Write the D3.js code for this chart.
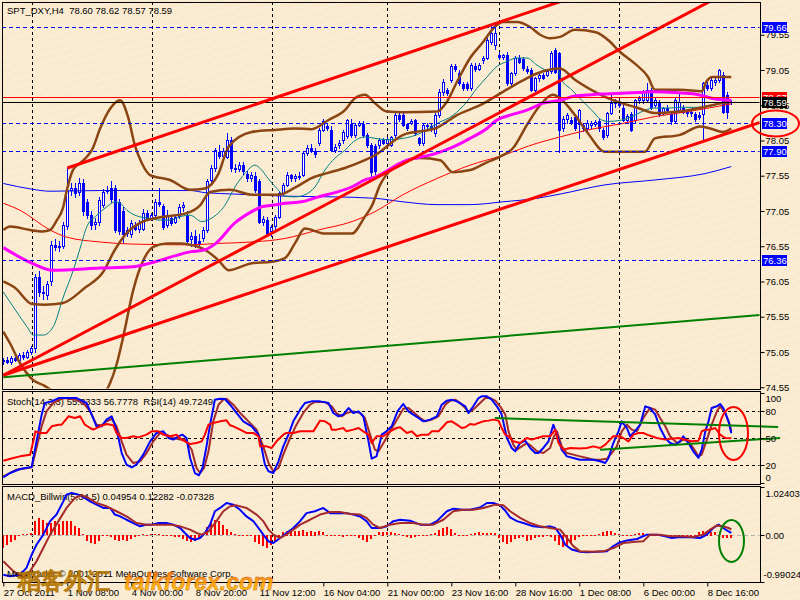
<!DOCTYPE html>
<html><head><meta charset="utf-8">
<script src="https://cdn.jsdelivr.net/npm/d3@7"></script>
<style>html,body{margin:0;padding:0;background:#FAEBD0;}svg{display:block;}text{font-family:"Liberation Sans",Arial,sans-serif;white-space:pre;}</style>
</head><body><svg id="c" width="800" height="600"></svg>
<script>
// ---------------- DATA ----------------
const symbolTitle = "SPT_DXY,H4  78.60 78.62 78.57 78.59";
const stochTitle = "Stoch(14,3,3) 55.3333 56.7778  RSI(14) 49.7249";
const macdTitle = "MACD_Billwin(5,34,5) 0.04954 0.12282 -0.07328";
const copyright = "MetaTrader © 2001-2011 MetaQuotes Software Corp.";
const xTickBars = [0,16,32,48,64,80,96,112,128,144,160,176];
const xTickLabels = ["27 Oct 2011","1 Nov 08:00","4 Nov 00:00","8 Nov 20:00","11 Nov 12:00","16 Nov 04:00","21 Nov 00:00","23 Nov 16:00","28 Nov 16:00","1 Dec 08:00","6 Dec 00:00","8 Dec 16:00"];
const gridBars = [7.1,37.1,67.1,96,124,154];
const priceTicks = [79.55,79.05,78.55,78.05,77.55,77.05,76.55,76.05,75.55,75.05,74.55];
const stochTicks = [100,80,50,20,0];
const stochLevels = [80,50,20];
const macdTicks = [1.02403,0,-0.99024];

const O = [74.92,74.94,74.91,74.96,74.94,75.00,74.98,75.05,75.10,76.12,75.90,75.86,76.05,76.57,76.54,76.56,76.83,77.35,77.38,77.32,77.45,77.18,77.00,76.86,76.90,77.13,77.33,77.37,77.37,77.18,77.05,76.78,76.72,76.85,76.80,76.80,77.02,76.95,77.00,77.18,77.12,76.85,76.95,76.90,76.98,77.10,77.00,76.65,76.70,76.62,76.66,76.78,77.49,77.66,77.88,77.83,77.82,78.06,77.66,77.64,77.70,77.58,77.52,77.54,77.47,76.90,76.92,76.76,76.83,76.97,77.30,77.42,77.56,77.52,77.55,77.56,77.87,77.94,77.90,78.01,78.20,78.25,78.20,77.92,77.99,78.06,78.11,78.29,78.13,78.27,78.29,78.13,77.99,77.97,77.98,78.05,78.02,77.99,78.13,78.41,78.41,78.28,78.30,78.34,78.08,78.01,78.27,78.25,78.15,78.41,78.74,78.76,78.91,79.10,79.00,78.85,78.85,78.79,79.10,79.07,79.19,79.22,79.45,79.40,79.26,79.24,79.26,78.86,79.00,79.22,79.20,79.07,79.05,78.77,78.93,78.98,78.98,79.03,79.33,79.29,78.22,78.36,78.34,78.39,78.29,78.27,78.22,78.27,78.28,78.32,78.20,78.13,78.44,78.58,78.60,78.51,78.34,78.43,78.34,78.62,78.62,78.62,78.77,78.55,78.60,78.46,78.51,78.43,78.32,78.48,78.51,78.46,78.46,78.43,78.41,78.43,78.84,78.79,78.88,78.91,78.98,78.70,78.60];
const Hh = [74.97,74.98,74.99,75.02,75.03,75.05,75.08,75.14,76.15,76.20,75.98,76.05,76.62,76.65,76.62,76.90,77.66,77.45,77.45,77.52,77.50,77.22,77.05,76.95,77.25,77.36,77.40,77.47,77.42,77.22,77.10,76.82,76.92,76.90,76.92,77.08,77.06,77.02,77.22,77.38,77.15,77.06,77.00,77.00,77.15,77.18,77.05,76.75,76.78,76.72,76.82,77.50,77.70,77.95,77.98,77.95,78.15,78.10,77.72,77.75,77.74,77.62,77.60,77.60,77.50,76.98,76.96,76.85,77.00,77.32,77.45,77.60,77.58,77.58,77.60,77.90,77.98,78.00,77.95,78.22,78.36,78.30,78.25,78.00,78.05,78.20,78.36,78.35,78.30,78.33,78.33,78.16,78.02,78.00,78.08,78.08,78.10,78.12,78.44,78.46,78.44,78.30,78.36,78.36,78.10,78.30,78.30,78.28,78.44,78.78,78.92,78.80,79.14,79.14,79.05,78.88,78.88,79.15,79.15,79.15,79.25,79.50,79.69,79.66,79.30,79.28,79.30,79.02,79.25,79.26,79.24,79.10,79.08,78.95,79.00,79.00,79.05,79.32,79.36,79.31,78.40,78.44,78.38,78.42,78.50,78.30,78.34,78.32,78.34,78.35,78.22,78.46,78.72,78.64,78.62,78.55,78.43,78.46,78.64,78.68,78.76,78.86,78.80,78.65,78.63,78.53,78.55,78.46,78.65,78.74,78.55,78.50,78.50,78.46,78.45,78.88,78.88,78.94,78.95,79.06,79.02,78.74,78.62];
const Ll = [74.88,74.89,74.88,74.92,74.92,74.95,74.96,75.02,75.05,75.85,75.80,75.80,76.00,76.50,76.48,76.52,76.80,77.28,77.25,77.28,77.00,76.95,76.80,76.80,76.85,77.10,77.30,77.18,76.75,76.72,76.60,76.70,76.68,76.78,76.75,76.78,76.92,76.92,76.98,77.12,76.80,76.82,76.85,76.88,76.95,77.05,76.58,76.55,76.54,76.56,76.62,76.75,77.45,77.62,77.80,77.78,77.80,77.62,77.60,77.62,77.58,77.48,77.48,77.32,76.88,76.85,76.69,76.70,76.80,76.95,77.28,77.40,77.48,77.48,77.50,77.54,77.85,77.88,77.82,77.98,78.18,78.20,77.90,77.88,77.95,78.02,78.08,78.10,78.10,78.25,78.10,77.96,77.55,77.58,77.95,78.00,77.98,77.97,78.10,78.32,78.25,78.20,78.28,78.13,77.98,77.98,78.22,78.18,78.12,78.38,78.70,78.70,78.88,79.03,78.84,78.76,78.77,78.76,79.03,79.05,79.15,79.20,79.42,79.35,79.20,79.20,78.84,78.82,78.98,79.15,79.05,79.00,78.75,78.74,78.90,78.92,78.96,79.00,79.00,77.89,78.18,78.30,78.28,78.20,78.08,78.18,78.20,78.22,78.25,78.18,78.07,78.10,78.42,78.53,78.52,78.32,78.30,78.18,78.30,78.58,78.58,78.60,78.50,78.52,78.40,78.42,78.46,78.28,78.30,78.46,78.44,78.40,78.40,78.33,78.36,78.06,78.77,78.76,78.84,78.88,78.44,78.37,78.57];
const Cc = [74.94,74.91,74.96,74.94,75.00,74.98,75.05,75.10,76.12,75.90,75.88,76.02,76.57,76.54,76.56,76.85,77.35,77.38,77.30,77.45,77.05,76.99,76.85,76.90,77.20,77.32,77.35,77.22,76.78,76.76,76.72,76.74,76.88,76.80,76.88,77.02,76.95,77.00,77.18,77.15,76.82,76.99,76.88,76.97,77.11,77.13,76.63,76.70,76.58,76.60,76.78,77.47,77.66,77.91,77.83,77.90,78.06,77.66,77.64,77.70,77.61,77.52,77.56,77.35,76.90,76.94,76.73,76.82,76.97,77.30,77.42,77.56,77.52,77.55,77.53,77.87,77.94,77.90,77.86,78.20,78.32,78.22,77.92,77.96,78.02,78.17,78.34,78.13,78.27,78.30,78.13,77.99,77.60,77.62,78.05,78.02,78.07,78.10,78.41,78.36,78.27,78.23,78.33,78.15,78.02,78.27,78.25,78.21,78.41,78.74,78.88,78.73,79.10,79.06,78.86,78.80,78.79,79.12,79.06,79.12,79.22,79.48,79.57,79.57,79.24,79.26,78.86,79.00,79.22,79.17,79.08,79.03,78.77,78.93,78.98,78.94,79.03,79.29,79.02,78.20,78.36,78.41,78.31,78.22,78.48,78.22,78.30,78.30,78.31,78.22,78.10,78.44,78.58,78.60,78.56,78.34,78.40,78.20,78.62,78.65,78.74,78.77,78.53,78.62,78.43,78.51,78.48,78.32,78.62,78.60,78.46,78.44,78.44,78.36,78.39,78.86,78.79,78.91,78.91,79.05,78.46,78.46,78.59];

const maTeal = [[0,75.90],[2.5,75.69],[5.9,75.41],[7.5,75.29],[10,75.29],[12.5,75.41],[15,75.83],[17.5,76.21],[19.2,76.52],[20.9,76.83],[23.4,76.99],[25.9,77.11],[27.9,77.18],[29.2,77.16],[30.9,77.06],[33.4,76.98],[35.9,76.95],[39.2,76.92],[41.7,76.92],[44.2,76.97],[46.7,76.99],[49.6,76.90],[52.1,76.95],[55.4,77.13],[57.9,77.39],[60.4,77.58],[62.9,77.70],[64.6,77.63],[66.2,77.51],[68.4,77.37],[70.4,77.26],[72.9,77.25],[75.4,77.28],[77.9,77.39],[80.4,77.63],[82.9,77.80],[85.4,77.91],[87.1,78.01],[90.4,78.10],[92.9,78.08],[95.9,78.06],[100,78.08],[104.2,78.15],[108.4,78.29],[112.5,78.41],[115.9,78.60],[118.4,78.79],[120.9,78.95],[123.4,79.10],[125.9,79.17],[128.4,79.22],[130.9,79.22],[133.4,79.12],[135.9,79.05],[138.4,79.07],[139.6,78.91],[142.1,78.77],[144.6,78.62],[147.1,78.48],[149.6,78.34],[151.3,78.32],[154.6,78.34],[157.9,78.41],[160.4,78.48],[162.9,78.51],[166.2,78.51],[169.6,78.52],[172.9,78.52],[176.2,78.53],[179.6,78.58],[182,78.62]];
const maMagenta = [[0,76.53],[7.1,76.31],[12.4,76.21],[24.2,76.24],[32.4,76.26],[36.7,76.31],[46.7,76.47],[50.4,76.50],[52.9,76.58],[57.9,76.88],[62.1,77.04],[64.6,77.11],[67.1,77.13],[70.4,77.16],[74.6,77.18],[78.8,77.25],[82.9,77.31],[87.1,77.39],[90.4,77.49],[92.9,77.53],[100,77.75],[108.4,77.87],[112.5,77.96],[116.7,78.08],[120.9,78.22],[123.4,78.34],[126.7,78.41],[130.9,78.48],[135,78.58],[139.2,78.62],[142.9,78.68],[147.1,78.70],[150.4,78.71],[158.8,78.73],[162.9,78.74],[167.9,78.73],[173.8,78.70],[177.1,78.65],[182,78.62]];
const maRed = [[0,77.16],[4.2,77.06],[11.7,76.78],[15.8,76.68],[24.2,76.61],[32.4,76.58],[46.7,76.57],[53.7,76.59],[62.2,76.61],[70.4,76.66],[78.7,76.78],[87.2,76.90],[92.9,77.04],[99.9,77.28],[108.4,77.51],[116.7,77.70],[124.9,77.84],[133.4,78.01],[139.2,78.10],[146.2,78.20],[154.7,78.29],[163,78.39],[171.2,78.46],[182,78.57]];
const maBlue = [[0,77.44],[7.1,77.36],[11.7,77.33],[24.2,77.34],[46.7,77.34],[50.4,77.31],[57.9,77.29],[70.4,77.26],[82.9,77.25],[92.9,77.23],[99.9,77.18],[108.4,77.14],[116.7,77.14],[124.9,77.18],[133.4,77.23],[139.2,77.29],[150.4,77.42],[162.9,77.49],[175.4,77.58],[182,77.68]];
const bbUpper = [[0,76.78],[1.7,76.83],[6.7,76.78],[9.9,76.76],[11.7,76.78],[13.4,76.92],[14.9,77.09],[15.9,77.35],[17.4,77.63],[19.2,77.73],[20.9,77.82],[22.2,77.92],[24.2,78.22],[26.7,78.50],[29.2,78.62],[31.2,78.38],[32.9,77.98],[34.7,77.72],[36.7,77.56],[41.7,77.49],[46.7,77.35],[50.4,77.37],[53.8,77.58],[56.3,77.96],[62.1,78.17],[67.9,78.20],[72.9,78.22],[77.1,78.21],[81.3,78.34],[85.4,78.48],[87.9,78.65],[90.4,78.70],[92.9,78.58],[95.9,78.46],[100,78.45],[108.4,78.46],[110.9,78.60],[113.4,78.88],[116.7,79.22],[120,79.45],[122.5,79.64],[125,79.73],[128.4,79.73],[131.7,79.66],[134.2,79.55],[136.7,79.50],[139.2,79.52],[142.9,79.62],[147.9,79.59],[151.7,79.45],[153.7,79.33],[157.9,79.14],[161.2,78.95],[162.9,78.77],[169.2,78.77],[174.7,78.75],[175.7,78.88],[177.4,78.95],[182,78.95]];
const bbMid = [[0,76.05],[2.9,75.96],[7.2,75.73],[10.4,75.72],[14.7,75.74],[20.4,75.96],[24.9,76.18],[27.9,76.50],[30.9,76.74],[34.2,76.88],[39.2,76.96],[45.9,77.02],[49.2,77.13],[51.7,77.32],[56.7,77.35],[62.2,77.28],[68.7,77.28],[72.9,77.38],[77.2,77.52],[81.2,77.59],[85.4,77.66],[90.4,77.77],[92.9,77.84],[100,78.13],[108.4,78.23],[113.4,78.41],[119.2,78.55],[124.9,78.74],[129.2,78.88],[133.4,79.00],[139.2,79.07],[142.9,78.91],[150.4,78.67],[158.7,78.51],[162.9,78.44],[171.2,78.48],[179.7,78.58],[182,78.60]];
const bbLower = [[0,75.34],[1.7,75.17],[4.2,74.89],[7.5,74.65],[10,74.58],[14.2,74.44],[19.2,74.37],[24.2,74.40],[26.7,74.61],[28.4,74.89],[30,75.27],[32.5,75.93],[35,76.35],[37.5,76.54],[40.9,76.59],[44.2,76.59],[46.7,76.57],[50.4,76.50],[53.8,76.35],[56.3,76.21],[62.1,76.31],[67.1,76.33],[70.4,76.38],[72.9,76.59],[75.4,76.80],[80.4,76.73],[87.1,76.73],[90.4,76.97],[92.2,77.13],[94.2,77.42],[99.9,77.74],[104.2,77.80],[109.2,77.77],[112.4,77.60],[116.7,77.63],[120.9,77.74],[124.2,77.82],[127.4,77.94],[130.9,78.27],[134.2,78.55],[137.4,78.70],[139.2,78.65],[142.9,78.41],[146.2,78.15],[150.4,77.89],[160.4,77.89],[162.9,78.08],[169.2,78.13],[174.2,78.25],[176.7,78.22],[179.9,78.17],[182,78.22]];

const trendRedA = [[16,77.66],[122,79.69]];
const trendRedB = [[0,74.72],[175.9,80.0]];
const trendRedC = [[0,74.72],[182,78.17]];
const trendGreen = [[0,74.69],[182,75.54]];
const hLinesBlue = [79.66,78.30,77.90,76.36];
const hLineRed = 78.67;
const hLineBid = 78.59;

const stochMain = [[0,6.3],[1.7,11.1],[4.2,15.6],[7.1,17.8],[8.3,46.3],[9.6,76],[10.4,88.9],[12.1,90.7],[13.8,94.4],[15.8,94.4],[18.3,94.4],[20.8,88.9],[22.1,76],[23.3,63],[24.6,63],[25.8,70.4],[27.1,74.1],[27.9,64.8],[28.8,50],[29.6,33.3],[30.8,20.4],[32.1,17.4],[33.3,20.4],[35,31.5],[36.7,46.3],[38.3,55.6],[40,57.4],[41.3,50],[42.5,48.2],[43.8,51.9],[44.8,53.7],[45.8,50],[46.7,27.8],[47.9,11.1],[48.9,8.6],[49.8,16.7],[50.8,40.7],[51.7,64.8],[52.5,83.3],[52.9,92.6],[54.2,93.7],[55.4,93.3],[56.7,87],[58.3,77.8],[60,68.5],[62.1,63],[63.8,53.7],[64.6,38.9],[65.4,20.4],[66.3,13],[67.5,11.1],[68.8,24.1],[70,40.7],[71.3,53.7],[72.5,68.5],[74.2,81.5],[75.4,88.9],[77.1,90.7],[79.2,90.7],[81.3,88.9],[82.5,77.8],[83.8,74.1],[85,76],[86.3,83.3],[87.5,77.8],[88.8,79.6],[90,74.1],[91.3,46.3],[92.1,27],[93.3,29.6],[94.6,53.7],[95.8,57.4],[97.1,63],[98.6,80],[100,87.8],[101.3,79.6],[102.5,76],[103.8,72.2],[105,68.5],[106.7,70.4],[108.4,74.1],[109.6,87],[110.9,91.5],[112.1,92.6],[113.4,90.7],[115.5,85.2],[116.3,77.8],[117.5,85.2],[118.8,94.4],[119.6,96.3],[120.9,96.3],[122.1,92.6],[123.4,85.2],[124.6,76],[125.9,50],[127.1,38.9],[128,35.2],[129.2,44.4],[130.5,47],[131.7,38.9],[133,33.3],[133.8,33.3],[135,38.9],[136.3,46.3],[137.5,64.8],[138.4,53.7],[139.6,37],[140.9,29.6],[142.5,27.8],[144.2,25.9],[145.9,25.9],[147.5,25.9],[149.2,24.1],[150.5,22.2],[151.3,27.8],[152.5,44.4],[153.8,57.4],[154.6,68.5],[155.9,61.1],[156.7,51.9],[157.9,57.4],[159.2,64.8],[160.5,85.2],[161.7,83.3],[163,76],[164.2,61.1],[165.5,50],[166.7,44.4],[168,42.6],[169.2,46.3],[170,51.9],[171.3,44.4],[172.5,35.2],[173.8,27.8],[174.6,37],[175.5,57.4],[176.3,68.5],[177.1,83.3],[178.4,85.2],[179.2,87.8],[180,83.3],[181.3,68.5],[182,55.3]];
const stochSignal = [[0,7.4],[3.3,14.8],[7.1,17.4],[8.3,38.9],[9.6,63],[10.8,79.6],[12.5,88.9],[14.6,93.7],[15.8,94.4],[17.9,92.6],[20,88.9],[21.7,79.6],[23.3,64.8],[24.6,64.1],[25.8,68.5],[27.1,71.1],[28.3,63],[29.6,46.3],[30.8,31.5],[32.5,22.2],[34.2,24.1],[35.8,33.3],[37.5,46.3],[39.2,55.6],[40.8,53.7],[42.5,50],[44.2,48.2],[45.4,48.2],[47.1,37],[48.3,16.7],[49.2,11.1],[50.2,16.7],[51.3,35.2],[52.5,68.5],[53.8,87],[55,92.6],[55.8,93.7],[57.5,87],[59.2,77.8],[61.3,68.5],[63.3,59.3],[65,40.7],[66.3,22.2],[67.5,13],[68.8,16.7],[70,31.5],[71.7,50],[73.3,64.8],[75,77.8],[76.7,87],[77.9,90],[80.4,90],[82.1,85.2],[83.3,77.8],[84.6,74.1],[85.8,77.8],[87.5,79.6],[89.2,77.8],[90.4,72.2],[91.7,53.7],[92.9,37],[93.8,35.2],[95.3,46.3],[96.7,57.4],[98.4,70.4],[100,82.6],[101.3,83.3],[102.5,78.9],[104.2,72.2],[105.5,68.5],[107.1,70.4],[108.8,74.1],[110.5,87],[111.7,91.5],[113,92.6],[114.2,88.9],[115.5,83.3],[116.3,78.9],[117.5,81.5],[119.2,88.9],[120.5,94.4],[121.7,94.4],[123,91.5],[124.2,85.2],[125.5,76],[126.3,57.4],[127.5,42.6],[128.4,37],[129.6,40.7],[130.9,44.4],[132.1,40.7],[133.4,35.2],[135,33.3],[136.7,38.9],[137.5,50],[138.4,57.4],[139.6,40.7],[140.9,33.3],[142.5,31.5],[144.2,29.6],[145.9,27.8],[147.5,25.9],[149.2,25.9],[150.9,27],[152.1,33.3],[153.4,40.7],[154.6,57.4],[155.9,64.8],[157.1,59.3],[158.4,57.4],[160,72.2],[161.7,83.3],[163,81.5],[164.2,72.2],[165.5,63],[166.7,51.9],[168.4,44.4],[170,48.2],[171.3,46.3],[172.5,38.9],[173.8,29.6],[174.6,31.5],[175.9,48.2],[177.1,64.8],[178.4,79.6],[179.2,85.2],[180.5,77.8],[181.7,64],[182,56.8]];
const rsi = [[0,24.8],[2.5,27.8],[4.2,29.6],[6.7,31.5],[7.5,46.3],[8,57.4],[9.2,55.6],[10.8,55.6],[12.1,63],[13.8,64.8],[14.6,64.8],[16.3,74.1],[17.9,72.2],[19.2,74.1],[20.4,64.8],[21.7,61.1],[22.5,59.3],[24.2,63],[25.8,65.6],[27.5,64.1],[28.3,55.6],[29.6,50],[30.8,50],[32.5,51.9],[33.8,50.7],[35.8,53.7],[37.1,57.4],[38.8,57.4],[40,53.7],[41.7,51.9],[43.3,53.7],[44.6,48.2],[46.7,43.3],[48.3,44.4],[49.6,46.3],[50.4,53.7],[51.3,64.8],[52.5,66.7],[54.2,68.5],[55.8,69.6],[56.7,64.1],[57.5,63],[59.2,59.3],[60.8,55.6],[62.5,55.6],[63.8,51.9],[64.2,40.7],[65.8,40.7],[67.1,38.9],[68.3,46.3],[70,53.7],[70.8,55.6],[72.5,55.6],[74.2,57.4],[77.5,57.4],[79.2,69.3],[80.4,68.5],[81.7,64.8],[82.1,59.3],[83.3,59.3],[85,61.1],[85.8,57.4],[87.5,59.3],[88.8,61.1],[90,57.4],[91.3,53.7],[92.1,44.4],[93.3,51.9],[95,51.9],[96.7,57.4],[98.3,61.1],[99.2,61.9],[100.9,55.6],[102.1,57.4],[103.4,51.9],[104.6,53.7],[106.3,53.7],[107.1,57.4],[108.8,57.4],[109.6,61.1],[110.9,67.4],[112.1,68.5],[113.4,64.8],[114.6,61.1],[115.5,61.9],[116.7,65.6],[117.9,64.8],[118.8,66.7],[120,68.5],[121.3,69.3],[122.5,70.4],[123.8,69.3],[124.6,61.1],[125.5,53.7],[126.3,51.9],[127.5,46.3],[129.2,44.4],[130.9,50],[132.1,48.2],[133.4,50],[135,51.9],[136.7,51.9],[138,59.3],[138.8,44.4],[140,37],[141.7,38.9],[144.2,38.2],[145.9,38.9],[147.5,40.7],[149.2,38.9],[150.5,42.6],[151.7,48.2],[152.5,51.9],[153.8,51.9],[155,50],[156.3,46.3],[157.5,53.7],[158.8,55.6],[160,55.6],[160.9,53.7],[162.1,51.9],[163.4,50],[165.5,48.2],[167.1,49.3],[168.8,50],[170.5,48.2],[172.1,46.3],[173.8,47],[174.6,57.4],[175.5,59.3],[176.7,59.3],[178,61.1],[179.2,53.7],[180.5,50],[182,49.7]];
const stochGreenUpper = [[122.9,72.2],[193.7,62.2]];
const stochGreenLower = [[149.2,37],[194.2,50]];

const macdMain = [[0,-0.835],[1.7,-0.87],[4.2,-0.835],[5.8,-0.69],[7.1,-0.41],[8.3,-0.2],[10,0.014],[11.7,0.3],[13.3,0.44],[15,0.72],[15.8,0.86],[17.1,0.9],[18.8,0.86],[20.4,0.79],[21.7,0.72],[23.3,0.65],[25,0.58],[26.7,0.58],[27.9,0.44],[29.2,0.4],[30.8,0.33],[32.5,0.26],[34.2,0.19],[35.8,0.226],[37.1,0.226],[38.8,0.26],[40.8,0.26],[42.5,0.226],[44.2,0.155],[45.4,0.049],[46.7,-0.057],[47.9,-0.093],[49.2,-0.057],[50.4,0.049],[51.7,0.226],[52.9,0.51],[54.2,0.58],[55.8,0.685],[57.5,0.65],[59.2,0.54],[60.8,0.4],[62.5,0.3],[63.8,0.155],[65,0.014],[66.3,-0.128],[67.5,-0.163],[69.2,-0.057],[70.8,0.049],[72.5,0.155],[74.2,0.3],[75.8,0.47],[77.9,0.51],[80,0.58],[81.7,0.47],[83.3,0.47],[85.8,0.47],[87.5,0.44],[89.2,0.4],[90.8,0.3],[92.1,0.155],[94.2,0.155],[95.9,0.19],[97.5,0.3],[99.2,0.33],[101.7,0.31],[104.2,0.226],[106.7,0.226],[108.4,0.3],[110.9,0.51],[112.5,0.565],[115,0.54],[116.7,0.54],[119.2,0.59],[120.9,0.685],[122.5,0.685],[124.2,0.635],[125.5,0.52],[126.7,0.38],[128.4,0.3],[130,0.26],[132.5,0.19],[135,0.17],[136.7,0.19],[138,0.155],[139.2,0.014],[140.5,-0.2],[142.1,-0.3],[144.2,-0.35],[145.9,-0.36],[148.4,-0.35],[150.9,-0.34],[152.5,-0.23],[153.8,-0.163],[155.9,-0.11],[158.4,-0.078],[160.9,0.014],[163.4,0.014],[165.5,-0.022],[167.1,-0.057],[169.2,-0.036],[171.7,-0.043],[174.2,-0.057],[175.9,0.014],[177.5,0.155],[178.8,0.226],[180,0.155],[181.2,0.09],[182,0.0495]];
const macdSignal = [[0,-0.55],[2.5,-0.76],[5,-0.9],[6.7,-0.76],[8.3,-0.55],[10,-0.27],[11.7,0.014],[13.8,0.3],[15.8,0.58],[17.9,0.79],[19.6,0.85],[21.3,0.79],[23.3,0.685],[25.8,0.615],[28.3,0.51],[30.8,0.4],[33.3,0.26],[35.8,0.226],[39.2,0.226],[41.7,0.226],[44.2,0.19],[46.7,0.12],[48.3,0.049],[49.6,0.014],[51.3,0.084],[53.3,0.3],[55,0.51],[56.7,0.615],[58.3,0.635],[60.8,0.58],[63.3,0.44],[65,0.3],[66.3,0.12],[67.5,0.014],[69.2,-0.057],[70.8,0.014],[72.5,0.12],[74.2,0.226],[76.7,0.33],[79.2,0.44],[81.7,0.495],[84.2,0.495],[86.7,0.45],[89.2,0.44],[90.8,0.37],[92.5,0.226],[94.2,0.155],[96.7,0.226],[99.2,0.26],[102.5,0.26],[105,0.226],[107.5,0.226],[110,0.33],[112.5,0.51],[115,0.54],[117.5,0.54],[120,0.58],[123,0.65],[125,0.635],[126.7,0.51],[129.2,0.37],[131.7,0.26],[134.2,0.19],[136.7,0.155],[139.2,0.12],[140.9,-0.057],[142.5,-0.23],[144.2,-0.34],[147.5,-0.35],[150,-0.34],[152.5,-0.27],[155,-0.163],[157.5,-0.142],[160,-0.128],[161.7,0.014],[164.2,0.014],[166.7,-0.022],[169.2,-0.022],[172.5,-0.036],[175,0.014],[176.7,0.12],[178.4,0.21],[180,0.19],[181.2,0.16],[182,0.123]];
const macdHist = [-0.27,-0.22,-0.15,-0.10,-0.02,0.02,0.03,0.05,
0.30,0.37,0.33,0.26,0.26,0.30,0.23,0.30,0.30,0.30,0.19,0.16,
0.02,-0.12,-0.18,-0.20,-0.12,-0.03,0.01,-0.04,
-0.10,-0.12,-0.10,-0.12,-0.08,-0.04,0.01,0.02,
0.0,0.02,0.03,0.02,0.0,-0.02,-0.03,-0.05,
-0.04,-0.08,-0.12,-0.15,-0.12,-0.09,0.02,
0.18,0.28,0.32,0.30,0.22,0.13,0.06,0.02,
0.0,-0.02,-0.03,-0.02,-0.15,-0.20,-0.24,-0.27,-0.22,-0.12,-0.05,
0.08,0.10,0.12,0.10,0.10,0.12,0.08,0.10,0.08,0.09,0.07,0.01,
-0.02,-0.03,-0.02,-0.04,-0.03,-0.02,-0.03,-0.06,-0.10,-0.15,-0.08,-0.02,
0.06,0.08,0.07,0.06,0.05,0.02,
-0.01,-0.05,-0.06,-0.04,-0.01,0.0,0.01,0.02,
0.05,0.12,0.16,0.18,0.14,0.04,0.0,-0.02,0.01,
0.03,0.04,0.06,0.05,0.05,0.05,0.04,
-0.06,-0.15,-0.20,-0.14,-0.08,-0.06,-0.05,-0.12,-0.10,-0.07,-0.05,-0.04,
-0.03,-0.05,-0.12,-0.22,-0.25,-0.23,-0.18,-0.10,-0.04,-0.03,-0.01,0.0,
0.01,0.03,0.08,0.10,0.09,0.05,0.02,0.0,0.01,
0.01,0.03,0.05,0.05,0.03,-0.01,
-0.02,-0.03,-0.02,-0.02,-0.03,-0.02,-0.02,-0.03,-0.01,-0.02,-0.01,
0.06,0.09,0.10,0.08,0.07,
-0.05,-0.06,-0.07,-0.073];

// ---------------- SCALES ----------------
const svg = d3.select('#c');
const FONT = 9.5;
const xBar = d3.scaleLinear().domain([0,182]).range([3.3,731.3]);
const yMain = d3.scaleLinear().domain([74.5,80]).range([390.75,3]);
const yStoch = d3.scaleLinear().domain([0,100]).range([483,393]);
const yMacd = d3.scaleLinear().domain([-0.99024,1.02403]).range([582,487]);
const P = {left:2,right:760,main:[2,389],stoch:[391,484],macd:[486,582]};

const defs = svg.append('defs');
const pat = defs.append('pattern').attr('id','dots').attr('width',3).attr('height',8)
  .attr('patternUnits','userSpaceOnUse').attr('patternTransform','rotate(-16)');
pat.append('rect').attr('width',1).attr('height',1).attr('fill','#ffffff');
function clip(id,y0,y1){defs.append('clipPath').attr('id',id).append('rect')
  .attr('x',P.left+0.5).attr('y',y0+0.5).attr('width',P.right-P.left-1).attr('height',y1-y0-1);}
clip('cm',...P.main);clip('cs',...P.stoch);clip('cd',...P.macd);

svg.append('rect').attr('width',800).attr('height',600).attr('fill','#FAEBD0');
svg.append('rect').attr('width',800).attr('height',600).attr('fill','url(#dots)').attr('opacity',0.75);

function txt(g,x,y,s,opt={}){return g.append('text').attr('x',x).attr('y',y).attr('font-size',opt.size||FONT)
  .attr('fill',opt.fill||'#000').attr('xml:space','preserve').text(s);}

function gridV(g,y0,y1){
  g.selectAll(null).data(gridBars).enter().append('line')
   .attr('x1',d=>Math.round(xBar(d))+0.5).attr('x2',d=>Math.round(xBar(d))+0.5)
   .attr('y1',y0).attr('y2',y1).attr('stroke','#000').attr('stroke-dasharray','3,3');
}

// ---------------- MAIN PANEL ----------------
const gm = svg.append('g').attr('clip-path','url(#cm)');
txt(gm,7,14,symbolTitle);
gridV(gm,P.main[0],P.main[1]);

const idx = d3.range(Cc.length);
gm.selectAll(null).data(idx).enter().append('line')
 .attr('x1',i=>Math.round(xBar(i))+0.5).attr('x2',i=>Math.round(xBar(i))+0.5)
 .attr('y1',i=>Math.round(yMain(Hh[i]))).attr('y2',i=>Math.round(yMain(Ll[i]))+1)
 .attr('stroke','#0000ff').attr('stroke-width',1);
idx.forEach(i=>{
  const cx=Math.round(xBar(i));
  const top=Math.round(yMain(Math.max(O[i],Cc[i]))), bot=Math.round(yMain(Math.min(O[i],Cc[i])));
  const h=Math.max(1,bot-top+1);
  gm.append('rect').attr('x',cx-1).attr('y',top).attr('width',3).attr('height',h).attr('fill','#0000ff');
  if(Cc[i]>O[i] && h>2) gm.append('rect').attr('x',cx).attr('y',top+1).attr('width',1).attr('height',h-2).attr('fill','#ffffff');
});

const lineM = d3.line().x(d=>xBar(d[0])).y(d=>yMain(d[1])).curve(d3.curveMonotoneX);
function path(g,data,gen,color,w){g.append('path').datum(data).attr('d',gen).attr('fill','none')
  .attr('stroke',color).attr('stroke-width',w).attr('stroke-linejoin','round');}
path(gm,maBlue,lineM,'#0000ff',1);
path(gm,maRed,lineM,'#ff0000',1);
path(gm,maTeal,lineM,'#008080',1);
path(gm,bbUpper,lineM,'#8B4513',2.5);
path(gm,bbMid,lineM,'#8B4513',2.5);
path(gm,bbLower,lineM,'#8B4513',2.5);
path(gm,maMagenta,lineM,'#ff00ff',3);

const xL=P.left, xR=P.right;
hLinesBlue.forEach(v=>gm.append('line').attr('x1',xL).attr('x2',xR)
  .attr('y1',Math.round(yMain(v))+0.5).attr('y2',Math.round(yMain(v))+0.5)
  .attr('stroke','#0000ff').attr('stroke-dasharray','4,3'));
gm.append('line').attr('x1',xL).attr('x2',xR).attr('y1',Math.round(yMain(hLineRed))+0.5).attr('y2',Math.round(yMain(hLineRed))+0.5).attr('stroke','#ff0000');
gm.append('line').attr('x1',xL).attr('x2',xR).attr('y1',Math.round(yMain(hLineBid))+0.5).attr('y2',Math.round(yMain(hLineBid))+0.5).attr('stroke','#000');

function ray(g,pts,ys,color,w,xEndPx){
  const [a,b]=pts; const endBar=xBar.invert(xEndPx);
  const v=a[1]+(b[1]-a[1])*(endBar-a[0])/(b[0]-a[0]);
  g.append('line').attr('x1',xBar(a[0])).attr('y1',ys(a[1])).attr('x2',xBar(endBar)).attr('y2',ys(v))
   .attr('stroke',color).attr('stroke-width',w);
}
ray(gm,trendGreen,yMain,'#008000',2,760);
ray(gm,trendRedA,yMain,'#ff0000',3,760);
ray(gm,trendRedB,yMain,'#ff0000',3,760);
ray(gm,trendRedC,yMain,'#ff0000',3,760);

// ---------------- STOCH PANEL ----------------
const gs = svg.append('g').attr('clip-path','url(#cs)');
txt(gs,7,405,stochTitle);
gridV(gs,P.stoch[0],P.stoch[1]);
stochLevels.forEach(v=>gs.append('line').attr('x1',xL).attr('x2',xR)
  .attr('y1',Math.round(yStoch(v))+0.5).attr('y2',Math.round(yStoch(v))+0.5)
  .attr('stroke','#000').attr('stroke-dasharray','3,3'));
const lineS = d3.line().x(d=>xBar(d[0])).y(d=>yStoch(d[1]));
path(gs,stochSignal,lineS,'#A52A2A',2);
path(gs,stochMain,lineS,'#0000ff',2);
path(gs,rsi,lineS,'#ff0000',2);
const gsu = svg.append('g');
ray(gsu,stochGreenUpper,yStoch,'#008000',2,xBar(stochGreenUpper[1][0]));
ray(gsu,stochGreenLower,yStoch,'#008000',2,xBar(stochGreenLower[1][0]));

// ---------------- MACD PANEL ----------------
const gd = svg.append('g').attr('clip-path','url(#cd)');
txt(gd,7,500,macdTitle);
gridV(gd,P.macd[0],P.macd[1]);
gd.append('line').attr('x1',xL).attr('x2',xR).attr('y1',Math.round(yMacd(0))+0.5).attr('y2',Math.round(yMacd(0))+0.5)
  .attr('stroke','#b0b0b0').attr('stroke-dasharray','4,3');
gd.selectAll(null).data(idx).enter().append('rect')
  .attr('x',i=>Math.round(xBar(i))-1).attr('width',2)
  .attr('y',i=>Math.round(Math.min(yMacd(0),yMacd(macdHist[i]))))
  .attr('height',i=>Math.max(1,Math.round(Math.abs(yMacd(macdHist[i])-yMacd(0)))))
  .attr('fill','#ff0000');
const lineD = d3.line().x(d=>xBar(d[0])).y(d=>yMacd(d[1]));
path(gd,macdMain,lineD,'#0000ff',2);
path(gd,macdSignal,lineD,'#A52A2A',2);
txt(gd,7,577,copyright);

// ---------------- FRAMES & AXES ----------------
[P.main,P.stoch,P.macd].forEach(([a,b])=>svg.append('rect').attr('x',P.left+0.5).attr('y',a+0.5)
  .attr('width',P.right-P.left).attr('height',b-a).attr('fill','none').attr('stroke','#000'));

function styleAxis(g){g.select('.domain').remove();g.selectAll('text').attr('font-size',FONT)
  .attr('font-family','"Liberation Sans",Arial,sans-serif').attr('fill','#000');g.selectAll('line').attr('stroke','#000');}
const am = svg.append('g').attr('transform','translate(760.5,0)')
  .call(d3.axisRight(yMain).tickValues(priceTicks).tickSize(4).tickPadding(1).tickFormat(d3.format('.2f')));
styleAxis(am);

const as = svg.append('g').attr('transform','translate(760.5,0)');
stochTicks.forEach(v=>{
  const y=yStoch(v)+(v===100?5:v===0?-6:0);
  as.append('line').attr('x1',0).attr('x2',4).attr('y1',Math.round(yStoch(v))+0.5).attr('y2',Math.round(yStoch(v))+0.5).attr('stroke','#000');
  txt(as,5,y+3.5,String(v));
});
const ad = svg.append('g').attr('transform','translate(760.5,0)');
macdTicks.forEach((v,k)=>{
  const y=yMacd(v)+(k===0?6:k===2?-8:0);
  ad.append('line').attr('x1',0).attr('x2',4).attr('y1',Math.round(yMacd(v))+0.5).attr('y2',Math.round(yMacd(v))+0.5).attr('stroke','#000');
  txt(ad,k===2?3:5,y+3.5,v===0?'0.00':String(v),{});
});

const ax = svg.append('g').attr('transform','translate(0,582.5)')
  .call(d3.axisBottom(xBar).tickValues(xTickBars).tickSize(4).tickPadding(3).tickFormat((d,i)=>xTickLabels[i]));
styleAxis(ax);
ax.selectAll('text').attr('text-anchor','start').attr('x',0);

function box(v,bg,fg){const y=Math.round(yMain(v));
  svg.append('rect').attr('x',762).attr('y',y-5).attr('width',25).attr('height',11).attr('fill',bg);
  txt(svg,763,y+4,v.toFixed(2),{fill:fg});}
hLinesBlue.forEach(v=>box(v,'#0000ff','#ffffff'));
box(hLineRed,'#ff0000','#ffffff');
box(hLineBid,'#000000','#ffffff');

svg.append('ellipse').attr('cx',775.5).attr('cy',123.5).attr('rx',23.5).attr('ry',13).attr('fill','none').attr('stroke','#ff0000').attr('stroke-width',2);
svg.append('ellipse').attr('cx',733.5).attr('cy',433.5).attr('rx',14.5).attr('ry',26.5).attr('fill','none').attr('stroke','#ff0000').attr('stroke-width',2);
svg.append('ellipse').attr('cx',731.5).attr('cy',541).attr('rx',12.5).attr('ry',21).attr('fill','none').attr('stroke','#008000').attr('stroke-width',2);

// watermark
svg.append('text').attr('x',18).attr('y',589).attr('font-size',23).attr('font-weight','bold')
  .attr('font-family','"Noto Sans CJK SC",sans-serif').attr('fill','#F5D020').attr('stroke','#B07000').attr('stroke-width',0.6)
  .attr('opacity',0.9).text('稻客外汇');
const grad = defs.append('linearGradient').attr('id','wm').attr('x1','0').attr('x2','0').attr('y1','0').attr('y2','1');
grad.append('stop').attr('offset','0').attr('stop-color','#FF6A00');
grad.append('stop').attr('offset','1').attr('stop-color','#FFD000');
svg.append('text').attr('x',124).attr('y',590).attr('font-size',23).attr('font-weight','bold').attr('font-style','italic')
  .attr('font-family','"Liberation Serif",serif').attr('fill','url(#wm)').attr('stroke','#C05000').attr('stroke-width',0.4)
  .attr('opacity',0.9).text('talkforex.com');
</script></body></html>
